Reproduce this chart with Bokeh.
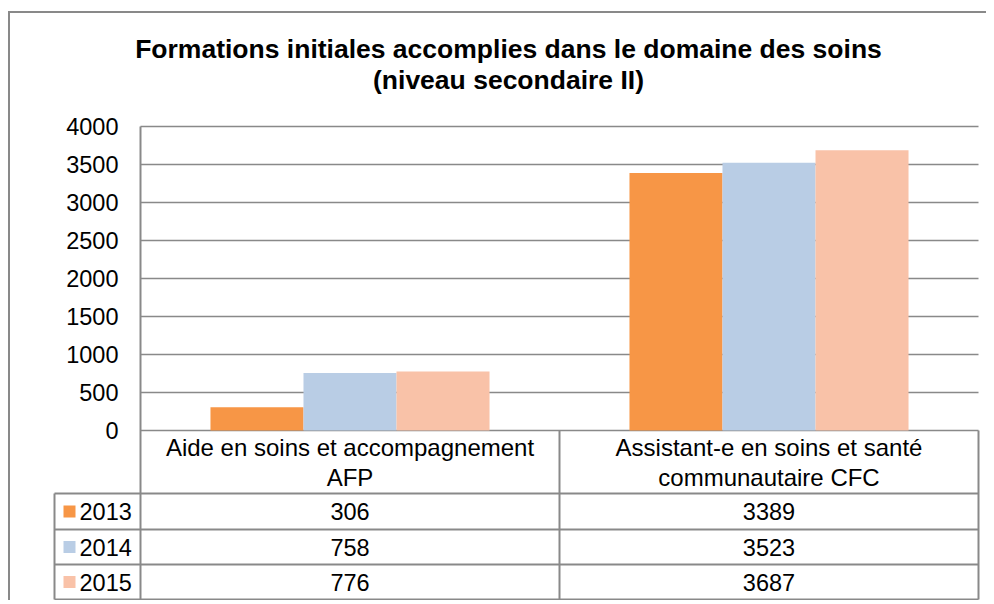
from bokeh.plotting import figure
from bokeh.models import Range1d
from bokeh.layouts import column
from bokeh.core.properties import value
from bokeh.embed import file_html
from bokeh.resources import INLINE

# ---------------- data ----------------
categories = ["Aide en soins et accompagnement\nAFP",
              "Assistant-e en soins et santé\ncommunautaire CFC"]
years = ["2013", "2014", "2015"]
v2013 = [306, 3389]
v2014 = [758, 3523]
v2015 = [776, 3687]
series = [v2013, v2014, v2015]
colors = ["#F79646", "#B9CDE5", "#F9C2A8"]
y_ticks = [0, 500, 1000, 1500, 2000, 2500, 3000, 3500, 4000]
title_lines = ["Formations initiales accomplies dans le domaine des soins",
               "(niveau secondaire II)"]

# ---------------- layout constants (page pixels) ----------------
FONT = "Liberation Sans"
GRAY = "#898989"
ORG_X, ORG_Y = 10, 13          # canvas origin on the page
W, H = 976, 587
CAT_PX = 419.0                 # horizontal pixels per category column
X0_PX = 140                    # page x of category axis start
Y0_PX = 430                    # page y of value 0
PX_PER_UNIT = 304.0 / 4000     # vertical pixels per value unit


def xd(px):
    return (px - X0_PX) / CAT_PX


def yd(py):
    return (Y0_PX - py) / PX_PER_UNIT


n = len(categories)
centers = [i + 0.5 for i in range(n)]
bar_w = 0.222

p = figure(width=W, height=H, output_backend="svg", toolbar_location=None,
           x_range=Range1d(xd(ORG_X), xd(ORG_X + W)),
           y_range=Range1d(yd(ORG_Y + H), yd(ORG_Y)),
           x_axis_location=None, y_axis_location=None, min_border=0)
p.outline_line_color = None
p.grid.visible = False

y_top_table = yd(599)

# value grid lines and axis line
p.segment(x0=[0] * len(y_ticks), y0=y_ticks, x1=[float(n)] * len(y_ticks), y1=y_ticks,
          line_color=GRAY, line_width=1.6)
p.segment(x0=[0], y0=[max(y_ticks)], x1=[0], y1=[y_top_table],
          line_color=GRAY, line_width=2)
# tick labels
p.text(x=[xd(118)] * len(y_ticks), y=y_ticks, text=[str(t) for t in y_ticks],
       text_font=value(FONT), text_font_size=value("23.5px"), text_align="right",
       text_baseline="middle", text_color="black")

# bars
for i, (vals, col) in enumerate(zip(series, colors)):
    xs = [c + (i - 1) * bar_w for c in centers]
    p.vbar(x=xs, top=vals, bottom=0, width=bar_w, fill_color=col, line_color=None)

# title
for line, mid in zip(title_lines, [48, 79]):
    p.text(x=[xd(508)], y=[yd(mid)], text=[line], text_font=value(FONT),
           text_font_size=value("26.5px"), text_font_style="bold",
           text_align="center", text_baseline="middle", text_color="black")

# data table: header row
p.segment(x0=[float(k) for k in range(1, n + 1)], y0=[0] * n,
          x1=[float(k) for k in range(1, n + 1)], y1=[y_top_table] * n,
          line_color=GRAY, line_width=2)
first = [c.split("\n")[0] for c in categories]
second = [c.split("\n")[1] for c in categories]
for texts, mid in [(first, 447), (second, 477)]:
    p.text(x=centers, y=[yd(mid)] * n, text=texts, text_font=value(FONT),
           text_font_size=value("24px"), text_align="center",
           text_baseline="middle", text_color="black")

# data table: series rows
xl = xd(54)
bounds = [yd(v) for v in [493, 529, 564, 599]]
p.segment(x0=[xl] * 4, y0=bounds, x1=[float(n)] * 4, y1=bounds,
          line_color=GRAY, line_width=2)
p.segment(x0=[xl], y0=[bounds[0]], x1=[xl], y1=[bounds[-1]],
          line_color=GRAY, line_width=2)
for i, (yr, vals, col) in enumerate(zip(years, series, colors)):
    yc = (bounds[i] + bounds[i + 1]) / 2
    p.scatter(x=[xd(69)], y=[yc], marker="square", size=12,
              fill_color=col, line_color=None)
    p.text(x=[xd(79)], y=[yc], text=[yr], text_font=value(FONT),
           text_font_size=value("23.5px"), text_align="left", text_baseline="middle",
           text_color="black")
    p.text(x=centers, y=[yc] * n, text=[str(v) for v in vals], text_font=value(FONT),
           text_font_size=value("23.5px"), text_align="center", text_baseline="middle",
           text_color="black")

layout = column(p, margin=(ORG_Y - 2, 0, 0, ORG_X - 2),
                styles={"border-left": "2px solid " + GRAY,
                        "border-top": "2px solid " + GRAY})
open("out.html", "w").write(file_html(layout, INLINE))
